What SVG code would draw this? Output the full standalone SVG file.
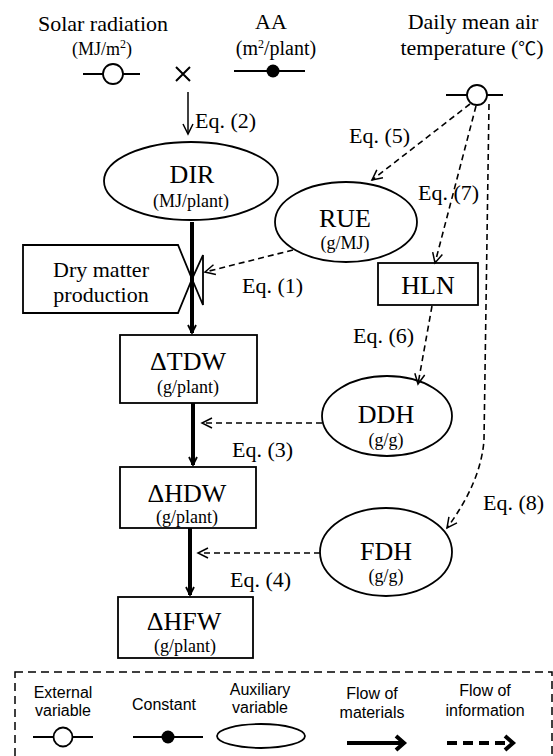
<svg xmlns="http://www.w3.org/2000/svg" width="553" height="756" viewBox="0 0 553 756">
<style>
.s{font-family:"Liberation Serif","Times New Roman","Noto Sans CJK JP",serif;fill:#000}
.l{font-family:"Liberation Sans",Arial,sans-serif;fill:#000;font-size:16px}
.big{font-size:26px}
.mid{font-size:22px}
.unit{font-size:18px}
.shape{fill:#fff;stroke:#000;stroke-width:1.8}
.thin{fill:none;stroke:#000;stroke-width:1.5}
.dash{fill:none;stroke:#000;stroke-width:1.6;stroke-dasharray:6,4}
.thick{fill:none;stroke:#000;stroke-width:4}
</style>
<defs>
<marker id="open" markerUnits="userSpaceOnUse" markerWidth="14" markerHeight="14" refX="11" refY="6" orient="auto" viewBox="0 0 14 12">
<path d="M1,1 L11,6 L1,11" fill="none" stroke="#000" stroke-width="1.5"/>
</marker>
<marker id="small" markerUnits="userSpaceOnUse" markerWidth="12" markerHeight="12" refX="9" refY="5" orient="auto" viewBox="0 0 12 10">
<path d="M1,1 L9,5 L1,9" fill="none" stroke="#000" stroke-width="1.8"/>
</marker>
<marker id="bold" markerUnits="userSpaceOnUse" markerWidth="14" markerHeight="18" refX="10" refY="9" orient="auto" viewBox="0 0 14 18">
<path d="M2,2 L10,9 L2,16" fill="none" stroke="#000" stroke-width="4"/>
</marker>
</defs>

<g id="solar-radiation">
<text class="s mid" x="103" y="31" text-anchor="middle">Solar radiation</text>
<text class="s unit" x="102" y="55" text-anchor="middle">(MJ/m<tspan font-size="12" dy="-7">2</tspan><tspan dy="7">)</tspan></text>
<line x1="83" y1="74" x2="140" y2="74" stroke="#000" stroke-width="2"/>
<circle cx="113" cy="74" r="10" fill="#fff" stroke="#000" stroke-width="1.8"/>
</g>

<g id="multiply">
<path d="M176,67 L190,81 M190,67 L176,81" stroke="#000" stroke-width="2" fill="none"/>
</g>

<g id="aa">
<text class="s mid" x="271" y="29" text-anchor="middle">AA</text>
<text class="s" font-size="20" x="276" y="55" text-anchor="middle">(m<tspan font-size="12" dy="-7">2</tspan><tspan dy="7">/plant)</tspan></text>
<line x1="234" y1="71" x2="305" y2="71" stroke="#000" stroke-width="2"/>
<circle cx="273" cy="71" r="6.5" fill="#000"/>
</g>

<g id="temperature">
<text class="s mid" x="473" y="29" text-anchor="middle">Daily mean air</text>
<text class="s" font-size="22" x="472" y="55" text-anchor="middle">temperature (<tspan font-size="18">℃</tspan>)</text>
<line x1="446" y1="95" x2="503" y2="95" stroke="#000" stroke-width="2"/>
<circle cx="477" cy="95" r="10" fill="#fff" stroke="#000" stroke-width="1.8"/>
</g>

<g id="dir">
<ellipse class="shape" cx="191" cy="181" rx="87" ry="39"/>
<text class="s big" x="192" y="183" text-anchor="middle">DIR</text>
<text class="s unit" x="191" y="207" text-anchor="middle">(MJ/plant)</text>
</g>

<g id="rue">
<ellipse class="shape" cx="346" cy="222" rx="71" ry="40"/>
<text class="s big" x="345" y="227" text-anchor="middle">RUE</text>
<text class="s unit" x="345" y="249" text-anchor="middle">(g/MJ)</text>
</g>

<g id="dry-matter-production">
<polygon class="shape" points="23,245 178,245 192,279 178,313 23,313"/>
<path d="M192,279 L203,305 L203,255 Z" fill="#fff" stroke="#000" stroke-width="1.8"/>
<text class="s mid" x="101" y="277" text-anchor="middle">Dry matter</text>
<text class="s mid" x="101" y="302" text-anchor="middle">production</text>
</g>

<g id="hln">
<rect class="shape" x="378" y="263" width="100" height="42"/>
<text class="s big" x="428" y="294" text-anchor="middle">HLN</text>
</g>

<g id="tdw">
<rect class="shape" x="120" y="335" width="137" height="68"/>
<text class="s big" x="188" y="370" text-anchor="middle">ΔTDW</text>
<text class="s unit" x="188" y="393" text-anchor="middle">(g/plant)</text>
</g>

<g id="ddh">
<ellipse class="shape" cx="387" cy="416" rx="65" ry="40"/>
<text class="s big" x="386" y="423" text-anchor="middle">DDH</text>
<text class="s unit" x="386" y="446" text-anchor="middle">(g/g)</text>
</g>

<g id="hdw">
<rect class="shape" x="120" y="467" width="136" height="61"/>
<text class="s big" x="187" y="502" text-anchor="middle">ΔHDW</text>
<text class="s unit" x="187" y="523" text-anchor="middle">(g/plant)</text>
</g>

<g id="fdh">
<ellipse class="shape" cx="386" cy="552" rx="66" ry="44"/>
<text class="s big" x="386" y="560" text-anchor="middle">FDH</text>
<text class="s unit" x="386" y="582" text-anchor="middle">(g/g)</text>
</g>

<g id="hfw">
<rect class="shape" x="118" y="597" width="135" height="61"/>
<text class="s big" x="184" y="630" text-anchor="middle">ΔHFW</text>
<text class="s unit" x="185" y="652" text-anchor="middle">(g/plant)</text>
</g>

<g id="connectors">
<line class="thin" x1="188" y1="92" x2="188" y2="134" marker-end="url(#open)"/>
<line class="thick" x1="192" y1="222" x2="192" y2="333" marker-end="url(#small)"/>
<line class="dash" x1="293" y1="250" x2="205" y2="272" marker-end="url(#open)"/>
<line class="dash" x1="470" y1="104" x2="372" y2="180" marker-end="url(#open)"/>
<line class="dash" x1="476" y1="106" x2="435" y2="263" marker-end="url(#open)"/>
<line class="dash" x1="432" y1="306" x2="418" y2="384" marker-end="url(#open)"/>
<path class="dash" d="M489,104 L484,440 Q481,482 447,528" marker-end="url(#open)"/>
<line class="dash" x1="322" y1="423" x2="202" y2="423" marker-end="url(#open)"/>
<line class="thick" x1="193" y1="403" x2="193" y2="465" marker-end="url(#small)"/>
<line class="dash" x1="320" y1="553" x2="198" y2="553" marker-end="url(#open)"/>
<line class="thick" x1="190" y1="528" x2="190" y2="595" marker-end="url(#small)"/>
</g>

<g id="equation-labels">
<text class="s mid" x="195" y="128">Eq. (2)</text>
<text class="s mid" x="349" y="143">Eq. (5)</text>
<text class="s mid" x="418" y="200">Eq. (7)</text>
<text class="s mid" x="242" y="293">Eq. (1)</text>
<text class="s mid" x="353" y="343">Eq. (6)</text>
<text class="s mid" x="232" y="457">Eq. (3)</text>
<text class="s mid" x="483" y="510">Eq. (8)</text>
<text class="s mid" x="230" y="587">Eq. (4)</text>
</g>

<g id="legend">
<rect x="15" y="672" width="537" height="90" fill="none" stroke="#000" stroke-width="1.5" stroke-dasharray="8,5"/>
<text class="l" x="63" y="698" text-anchor="middle">External</text>
<text class="l" x="63" y="716" text-anchor="middle">variable</text>
<line x1="33" y1="737" x2="93" y2="737" stroke="#000" stroke-width="2"/>
<circle cx="63" cy="737" r="9.5" fill="#fff" stroke="#000" stroke-width="1.8"/>
<text class="l" x="164" y="710" text-anchor="middle">Constant</text>
<line x1="133" y1="737" x2="203" y2="737" stroke="#000" stroke-width="2"/>
<circle cx="168" cy="737" r="6.5" fill="#000"/>
<text class="l" x="260" y="695" text-anchor="middle">Auxiliary</text>
<text class="l" x="260" y="713" text-anchor="middle">variable</text>
<ellipse cx="261" cy="736" rx="44" ry="12" fill="#fff" stroke="#000" stroke-width="1.8"/>
<text class="l" x="372" y="699" text-anchor="middle">Flow of</text>
<text class="l" x="372" y="718" text-anchor="middle">materials</text>
<line x1="347" y1="743" x2="404" y2="743" stroke="#000" stroke-width="4" marker-end="url(#bold)"/>
<text class="l" x="485" y="696" text-anchor="middle">Flow of</text>
<text class="l" x="485" y="716" text-anchor="middle">information</text>
<line x1="447" y1="743" x2="513" y2="743" stroke="#000" stroke-width="4" stroke-dasharray="10,6" marker-end="url(#bold)"/>
</g>
</svg>
